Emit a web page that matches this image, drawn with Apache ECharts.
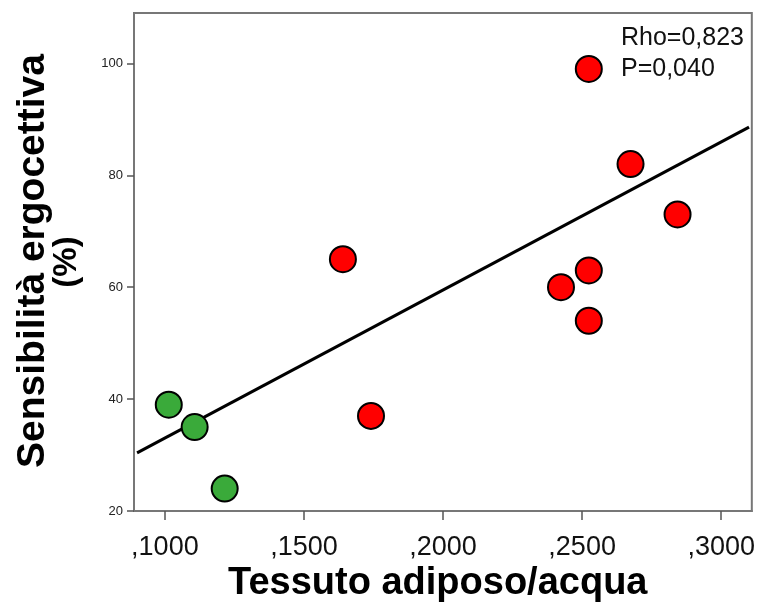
<!DOCTYPE html>
<html>
<head>
<meta charset="utf-8">
<script src="https://cdn.jsdelivr.net/npm/echarts@6/dist/echarts.min.js"></script>
<style>html,body{margin:0;padding:0;background:#fff;}#c{width:758px;height:603px;}</style>
</head>
<body>
<div id="c"></div>
<script>
// Data
var greenX = [0.1014, 0.1107, 0.1215];
var greenY = [39, 35, 24];
var redX = [0.1640, 0.1741, 0.2424, 0.2524, 0.2524, 0.2674, 0.2843, 0.2524];
var redY = [65, 37, 60, 63, 54, 82, 73, 99];
var fitX = [0.0900, 0.3100];
var fitY = [30.4, 88.6];
var xTicks = [0.10, 0.15, 0.20, 0.25, 0.30];
var xTickLabels = [',1000', ',1500', ',2000', ',2500', ',3000'];
var yTicks = [20, 40, 60, 80, 100];
var statLines = ['Rho=0,823', 'P=0,040'];
var xTitle = 'Tessuto adiposo/acqua';
var yTitle1 = 'Sensibilità ergocettiva';
var yTitle2 = '(%)';

function pairs(xs, ys) { return xs.map(function (x, i) { return [x, ys[i]]; }); }

var FONT = 'Liberation Sans, Arial, sans-serif';
var chart = echarts.init(document.getElementById('c'), null, {renderer: 'canvas'});
chart.setOption({
  backgroundColor: '#fff',
  animation: false,
  grid: {left: 134, right: 5, top: 13, bottom: 92, show: true, borderColor: '#777', borderWidth: 2, backgroundColor: 'transparent'},
  xAxis: {
    type: 'value', min: 0.0889, max: 0.311,
    axisLine: {show: true, lineStyle: {color: '#777', width: 2}},
    splitLine: {show: false},
    axisTick: {show: true, length: 9, customValues: xTicks, lineStyle: {color: '#555', width: 1.5}},
    axisLabel: {
      customValues: xTicks, margin: 23, fontSize: 27, color: '#111', fontFamily: FONT,
      formatter: function (v) {
        for (var i = 0; i < xTicks.length; i++) if (Math.abs(v - xTicks[i]) < 1e-6) return xTickLabels[i];
        return '';
      }
    }
  },
  yAxis: {
    type: 'value', min: 20, max: 109, interval: 20,
    axisLine: {show: true, lineStyle: {color: '#777', width: 2}},
    splitLine: {show: false},
    axisTick: {show: true, length: 7, lineStyle: {color: '#555', width: 1.5}},
    axisLabel: {
      margin: 11, fontSize: 13, color: '#222', fontFamily: FONT, showMaxLabel: false,
      formatter: function (v) { return yTicks.indexOf(v) >= 0 ? String(v) : ''; }
    }
  },
  graphic: [
    {type: 'text', x: 228, y: 584, style: {text: xTitle, font: 'bold 38px ' + FONT, fill: '#000', textVerticalAlign: 'middle'}},
    {type: 'text', x: 33, y: 261, rotation: Math.PI / 2, style: {text: yTitle1, font: 'bold 39px ' + FONT, fill: '#000', textAlign: 'center', textVerticalAlign: 'middle'}},
    {type: 'text', x: 67, y: 262, rotation: Math.PI / 2, style: {text: yTitle2, font: 'bold 33px ' + FONT, fill: '#000', textAlign: 'center', textVerticalAlign: 'middle'}},
    {type: 'text', x: 621, y: 23, style: {text: statLines.join('\n'), font: '25px ' + FONT, fill: '#111', lineHeight: 31}}
  ],
  series: [
    {
      type: 'line', data: pairs(fitX, fitY), showSymbol: false, symbol: 'none',
      lineStyle: {color: '#000', width: 3}, z: 2, silent: true
    },
    {
      type: 'scatter', data: pairs(greenX, greenY), symbolSize: 26,
      itemStyle: {color: '#3aaa3a', borderColor: '#000', borderWidth: 2, opacity: 1}, z: 3
    },
    {
      type: 'scatter', data: pairs(redX, redY), symbolSize: 26,
      itemStyle: {color: '#ff0000', borderColor: '#000', borderWidth: 2, opacity: 1}, z: 3
    }
  ]
});
</script>
</body>
</html>
